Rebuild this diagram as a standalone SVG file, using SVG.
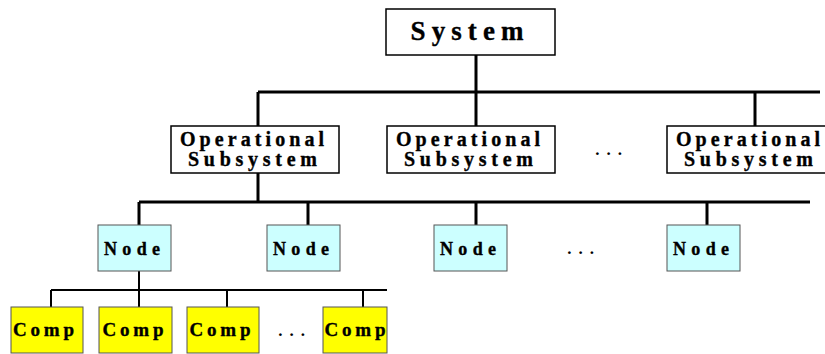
<svg xmlns="http://www.w3.org/2000/svg" width="825" height="354" viewBox="0 0 825 354">
  <style>
    .lbl { font-family: "Liberation Serif", "Times New Roman", serif; font-weight: bold; fill: #000; stroke: #000; stroke-width: 0.35; text-anchor: middle; }
    .sys { fill: #fff; stroke: #000; stroke-width: 1.5; }
    .ops { fill: #fff; stroke: #000; stroke-width: 1.5; }
    .node { fill: #ccffff; stroke: #555; stroke-width: 1; }
    .comp { fill: #ffff00; stroke: #555; stroke-width: 1; }
    .thick { stroke: #000; stroke-width: 3; fill: none; }
    .thin { stroke: #000; stroke-width: 2; fill: none; }
    .dots { font-family: "Liberation Serif", serif; font-weight: bold; font-size: 17px; fill: #000; text-anchor: middle; }
  </style>

  <!-- connectors -->
  <g id="connectors">
    <path class="thick" d="M476 55V92 M258 92H820 M258 92V126 M476 92V126 M755 92V126"/>
    <path class="thick" d="M258 173V202 M139 202H810 M139 202V225 M308 202V225 M476 202V225 M707 202V225"/>
    <path class="thin" d="M139 271V290 M51 290H387 M51 290V307 M139 290V307 M227 290V307 M363 290V307"/>
  </g>

  <!-- top level -->
  <g id="system">
    <rect class="sys" x="386" y="9" width="169" height="46"/>
    <text class="lbl" x="467" y="40" font-size="27" textLength="113" lengthAdjust="spacing">System</text>
  </g>

  <!-- operational subsystems -->
  <g id="opsub1">
    <rect class="ops" x="171" y="126" width="168" height="47"/>
    <text class="lbl" x="252" y="146" font-size="20" textLength="144" lengthAdjust="spacing">Operational</text>
    <text class="lbl" x="252.5" y="166" font-size="20" textLength="129" lengthAdjust="spacing">Subsystem</text>
  </g>
  <g id="opsub2">
    <rect class="ops" x="387" y="126" width="168" height="47"/>
    <text class="lbl" x="468" y="146" font-size="20" textLength="144" lengthAdjust="spacing">Operational</text>
    <text class="lbl" x="468.5" y="166" font-size="20" textLength="129" lengthAdjust="spacing">Subsystem</text>
  </g>
  <text class="dots" x="612" y="155" letter-spacing="7">...</text>
  <g id="opsub3">
    <rect class="ops" x="667" y="126" width="168" height="47"/>
    <text class="lbl" x="748" y="146" font-size="20" textLength="144" lengthAdjust="spacing">Operational</text>
    <text class="lbl" x="748.5" y="166" font-size="20" textLength="129" lengthAdjust="spacing">Subsystem</text>
  </g>

  <!-- nodes -->
  <g id="node1">
    <rect class="node" x="98" y="225" width="73" height="46"/>
    <text class="lbl" x="132" y="255" font-size="18" textLength="56" lengthAdjust="spacing">Node</text>
  </g>
  <g id="node2">
    <rect class="node" x="267" y="225" width="73" height="46"/>
    <text class="lbl" x="301" y="255" font-size="18" textLength="56" lengthAdjust="spacing">Node</text>
  </g>
  <g id="node3">
    <rect class="node" x="434" y="225" width="73" height="46"/>
    <text class="lbl" x="468" y="255" font-size="18" textLength="56" lengthAdjust="spacing">Node</text>
  </g>
  <text class="dots" x="584" y="254" letter-spacing="7">...</text>
  <g id="node4">
    <rect class="node" x="667" y="225" width="73" height="46"/>
    <text class="lbl" x="701" y="255" font-size="18" textLength="56" lengthAdjust="spacing">Node</text>
  </g>

  <!-- components -->
  <g id="comp1">
    <rect class="comp" x="11" y="307" width="72" height="46"/>
    <text class="lbl" x="43.5" y="336" font-size="19" textLength="61" lengthAdjust="spacing">Comp</text>
  </g>
  <g id="comp2">
    <rect class="comp" x="99" y="307" width="73" height="46"/>
    <text class="lbl" x="133" y="336" font-size="19" textLength="61" lengthAdjust="spacing">Comp</text>
  </g>
  <g id="comp3">
    <rect class="comp" x="187" y="307" width="72" height="46"/>
    <text class="lbl" x="220" y="336" font-size="19" textLength="61" lengthAdjust="spacing">Comp</text>
  </g>
  <text class="dots" x="295" y="336" letter-spacing="7">...</text>
  <g id="comp4">
    <rect class="comp" x="323" y="307" width="64" height="46"/>
    <text class="lbl" x="355" y="336" font-size="19" textLength="61" lengthAdjust="spacing">Comp</text>
  </g>
</svg>
